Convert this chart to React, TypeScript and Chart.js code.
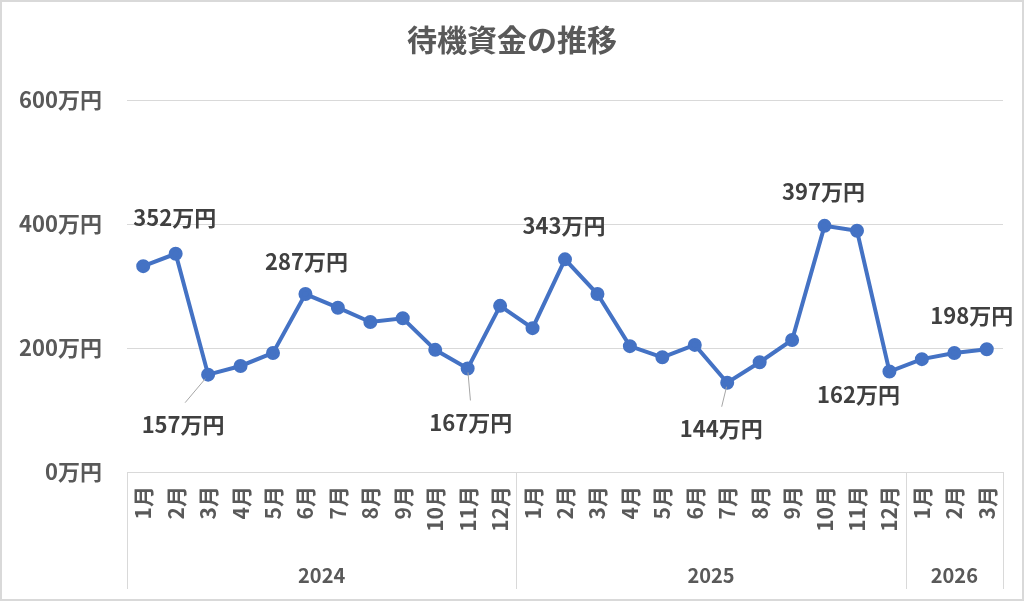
import { useEffect, useRef } from 'react';
import { Chart, registerables } from 'chart.js';

Chart.register(...registerables);

const months = [
  '1月', '2月', '3月', '4月', '5月', '6月', '7月', '8月', '9月', '10月', '11月', '12月',
  '1月', '2月', '3月', '4月', '5月', '6月', '7月', '8月', '9月', '10月', '11月', '12月',
  '1月', '2月', '3月',
];
const years = ['2024', '2025', '2026'];
const monthsPerYear = [12, 12, 3];

// 待機資金 (万円)
const funds = [
  332, 352, 157, 171, 192, 287, 265, 242, 248, 197, 167, 268,
  232, 343, 287, 203, 185, 205, 144, 177, 213, 397, 389, 162,
  182, 192, 198,
];

const yTicks = [0, 200, 400, 600];

// which points carry a value label
const labelledPoints = [1, 2, 5, 10, 13, 18, 21, 23, 26];

const TITLE = '待機資金の推移';
const FONT = '"Noto Sans CJK JP", "Noto Sans", sans-serif';
const BLUE = '#4472C4';
const GREY_LINE = '#d9d9d9';

// label placement relative to point: dx, dy, leader line
const labelPlacement: Record<number, { dx: number; dy: number; leader?: boolean }> = {
  1: { dx: -1, dy: -36 },
  2: { dx: -25, dy: 50, leader: true },
  5: { dx: 1, dy: -32 },
  10: { dx: 3, dy: 54, leader: true },
  13: { dx: -1, dy: -34 },
  18: { dx: -6, dy: 46, leader: true },
  21: { dx: -1, dy: -34 },
  23: { dx: -31, dy: 23 },
  26: { dx: -15, dy: -34 },
};

const titleText = {
  id: 'titleText',
  afterDraw(chart: Chart) {
    const ctx = chart.ctx;
    ctx.save();
    ctx.font = `bold 30px ${FONT}`;
    ctx.fillStyle = '#595959';
    ctx.textAlign = 'center';
    ctx.textBaseline = 'middle';
    ctx.fillText(TITLE, 510, 38);
    ctx.restore();
  },
};

const valueLabels = {
  id: 'valueLabels',
  afterDatasetsDraw(chart: Chart) {
    const ctx = chart.ctx;
    const meta = chart.getDatasetMeta(0);
    ctx.save();
    ctx.font = `bold 22px ${FONT}`;
    ctx.fillStyle = '#404040';
    ctx.textAlign = 'center';
    ctx.textBaseline = 'middle';
    labelledPoints.forEach((i) => {
      const pt = meta.data[i];
      const p = labelPlacement[i] || { dx: 0, dy: -32 };
      const x = pt.x + p.dx;
      const y = pt.y + p.dy;
      if (p.leader) {
        ctx.strokeStyle = '#a6a6a6';
        ctx.lineWidth = 1;
        ctx.beginPath();
        const ex = x + (pt.x - x) * 0.08;
        const ey = y - 22;
        ctx.moveTo(pt.x - (pt.x - ex) * 0.12, pt.y + 4);
        ctx.lineTo(ex, ey);
        ctx.stroke();
      }
      ctx.fillText(`${funds[i]}万円`, x, y);
    });
    ctx.restore();
  },
};

const yearRow = {
  id: 'yearRow',
  afterDraw(chart: Chart) {
    const ctx = chart.ctx;
    const xs = chart.scales.x;
    const top = chart.chartArea.bottom;
    const bottom = 587;
    const half = (xs.getPixelForValue(1) - xs.getPixelForValue(0)) / 2;
    ctx.save();
    ctx.strokeStyle = GREY_LINE;
    ctx.lineWidth = 1;
    ctx.fillStyle = '#595959';
    ctx.font = `bold 20px ${FONT}`;
    ctx.textAlign = 'center';
    ctx.textBaseline = 'middle';
    let start = 0;
    const line = (x: number) => {
      ctx.beginPath();
      ctx.moveTo(Math.round(x) + 0.5, top);
      ctx.lineTo(Math.round(x) + 0.5, bottom);
      ctx.stroke();
    };
    line(xs.getPixelForValue(0) - half);
    years.forEach((yr, g) => {
      const end = start + monthsPerYear[g] - 1;
      const x0 = xs.getPixelForValue(start) - half;
      const x1 = xs.getPixelForValue(end) + half;
      line(x1);
      ctx.fillText(yr, (x0 + x1) / 2, 573);
      start = end + 1;
    });
    ctx.restore();
  },
};

function FundChart() {
  const canvasRef = useRef<HTMLCanvasElement>(null);
  const chartRef = useRef<Chart | null>(null);

  useEffect(() => {
    if (!canvasRef.current) return;
    if (chartRef.current) chartRef.current.destroy();

    chartRef.current = new Chart(canvasRef.current, {
      type: 'line',
      data: {
        labels: months,
        datasets: [{
          data: funds,
          borderColor: BLUE,
          backgroundColor: BLUE,
          borderWidth: 4,
          pointRadius: 5,
          pointHoverRadius: 5,
          tension: 0,
        }],
      },
      options: {
        responsive: false,
        animation: false,
        layout: { padding: { left: 0, right: 19, top: 98, bottom: 0 } },
        plugins: {
          legend: { display: false },
          tooltip: { enabled: false },
          title: { display: false },
        },
        scales: {
          x: {
            offset: true,
            grid: { display: false, drawTicks: false },
            border: { display: true, color: GREY_LINE, width: 1 },
            ticks: {
              autoSkip: false,
              minRotation: 90,
              maxRotation: 90,
              padding: 14,
              color: '#595959',
              font: { family: FONT, size: 21, weight: 'bold' },
            },
            afterFit: (scale: any) => {
              scale.height = 127;
              scale.paddingLeft = 0;
              scale.paddingRight = 0;
            },
          },
          y: {
            min: 0,
            max: 600,
            afterBuildTicks: (scale: any) => {
              scale.ticks = yTicks.map((v) => ({ value: v }));
            },
            grid: { color: GREY_LINE, drawTicks: false, lineWidth: 1 },
            border: { display: false },
            ticks: {
              padding: 25,
              color: '#595959',
              font: { family: FONT, size: 22, weight: 'bold' },
              callback: (v: any) => `${v}万円`,
            },
            afterFit: (scale: any) => {
              scale.width = 125;
              scale.paddingTop = 0;
              scale.paddingBottom = 0;
            },
          },
        },
      },
      plugins: [valueLabels, yearRow, titleText],
    });

    return () => {
      if (chartRef.current) {
        chartRef.current.destroy();
        chartRef.current = null;
      }
    };
  }, []);

  return (
    <div style={{
      position: 'absolute', left: 0, top: 0, width: 1024, height: 601,
      boxSizing: 'border-box', border: `2px solid ${GREY_LINE}`, background: '#fff',
    }}>
      <canvas ref={canvasRef} width={1020} height={597} style={{ display: 'block' }} />
    </div>
  );
}

export default function App() {
  return <FundChart />;
}
